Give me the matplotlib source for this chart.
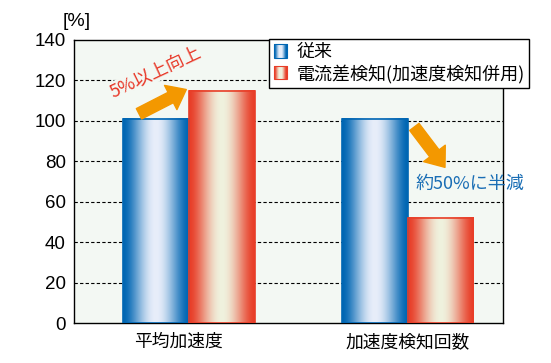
import matplotlib
matplotlib.use("Agg")
import matplotlib.pyplot as plt
import matplotlib.transforms as mtransforms
import numpy as np
from matplotlib.patches import Rectangle
from matplotlib.legend_handler import HandlerBase

plt.rcParams['font.family'] = ['Noto Sans CJK JP', 'DejaVu Sans']

categories = ['平均加速度', '加速度検知回数']
conventional = [101, 101]
new_method = [115, 52]
series_names = ['従来', '電流差検知(加速度検知併用)']
yticks = [0, 20, 40, 60, 80, 100, 120, 140]

bg = '#f3f8f3'
blue_edge = np.array([0, 102, 179]) / 255
blue_mid = np.array([232, 238, 250]) / 255
red_edge = np.array([232, 62, 40]) / 255
red_mid = np.array([240, 242, 222]) / 255


def grad(edge, mid, n=64):
    t = np.linspace(0, 1, n)
    w = np.sin(np.pi * t) ** 1.6
    return edge[None, :] * (1 - w[:, None]) + mid[None, :] * w[:, None]


fig = plt.figure(figsize=(5.51, 3.63), dpi=100)
ax = fig.add_axes([74 / 551, 40 / 363, 429 / 551, 283 / 363])
ax.set_facecolor(bg)

x = np.arange(len(categories))
w = 0.30
b1 = ax.bar(x - w / 2, conventional, w, facecolor='none', edgecolor='none', zorder=3)
b2 = ax.bar(x + w / 2, new_method, w, facecolor='none', edgecolor='none', zorder=3)

for bars, edge, mid in [(b1, blue_edge, blue_mid), (b2, red_edge, red_mid)]:
    g = grad(edge, mid)[None, :, :]
    for r in bars:
        x0, y0, bw, bh = r.get_x(), r.get_y(), r.get_width(), r.get_height()
        ax.imshow(g, extent=[x0, x0 + bw, y0, y0 + bh], aspect='auto',
                  interpolation='bilinear', zorder=3)
        ax.add_patch(Rectangle((x0, y0), bw, bh, facecolor='none',
                               edgecolor=edge, lw=1.2, zorder=4))

ax.set_xlim(-0.525, 1.435)
ax.set_ylim(0, 140)
ax.set_yticks(yticks)
ax.set_yticklabels([str(v) for v in yticks], fontsize=13.5, family=['Liberation Sans'])
ax.set_xticks(x)
ax.set_xticklabels(categories, fontsize=12.8)
ax.tick_params(axis='both', length=0, pad=6)
ax.tick_params(axis='x', pad=7)
lbl0 = ax.get_xticklabels()[0]
lbl0.set_transform(lbl0.get_transform() + mtransforms.ScaledTranslation(-0.10, 0, fig.dpi_scale_trans))
for v in yticks[1:-1]:
    ax.axhline(v, color='black', lw=0.8, ls=(0, (3, 2)), zorder=1)
for s in ax.spines.values():
    s.set_color('black')
    s.set_linewidth(1.0)

ax.text(0.007, 1.067, '[%]', transform=ax.transAxes, ha='center', va='center',
        fontsize=14, family=['Liberation Sans'])

orange = '#f39800'
ax.text(-0.155, 124, '5%以上向上', color='#e83828', fontsize=13, rotation=25,
        ha='center', va='center', zorder=5,
        bbox=dict(boxstyle='square,pad=0.05', facecolor=bg, edgecolor='none'))
ax.annotate('', xy=(-0.012, 115.5), xytext=(-0.228, 103.5),
            arrowprops=dict(arrowstyle='simple,head_length=0.9,head_width=1.4,tail_width=0.6',
                            color=orange, mutation_scale=14, shrinkA=0, shrinkB=0), zorder=6)

ax.annotate('', xy=(1.17, 77), xytext=(1.03, 97),
            arrowprops=dict(arrowstyle='simple,head_length=0.9,head_width=1.4,tail_width=0.6',
                            color=orange, mutation_scale=14, shrinkA=0, shrinkB=0), zorder=6)
ax.text(1.283, 69, '約50%に半減', color='#1a6eb5', fontsize=13,
        ha='center', va='center', zorder=5)


class GradHandler(HandlerBase):
    def __init__(self, edge, mid):
        super().__init__()
        self.edge, self.mid = edge, mid

    def create_artists(self, legend, orig_handle, xdescent, ydescent, width, height, fontsize, trans):
        cols = grad(self.edge, self.mid, 12)
        n = len(cols)
        arts = []
        for i, c in enumerate(cols):
            arts.append(Rectangle((-xdescent + width * i / n, -ydescent), width / n + 0.3, height,
                                  facecolor=c, edgecolor='none', transform=trans))
        arts.append(Rectangle((-xdescent, -ydescent), width, height, facecolor='none',
                              edgecolor=self.edge, lw=0.8, transform=trans))
        return arts


h1 = Rectangle((0, 0), 1, 1)
h2 = Rectangle((0, 0), 1, 1)
leg = ax.legend([h1, h2], series_names, loc='upper left', bbox_to_anchor=(0.455, 1.004),
                borderaxespad=0, fancybox=False, framealpha=1, edgecolor='black',
                fontsize=13, handlelength=0.75, handleheight=0.75, handletextpad=0.5,
                labelspacing=0.15, borderpad=0.25,
                handler_map={h1: GradHandler(blue_edge, blue_mid),
                             h2: GradHandler(red_edge, red_mid)})
leg.get_frame().set_linewidth(1.0)
leg.set_zorder(7)

fig.savefig('out.png', dpi=100)
